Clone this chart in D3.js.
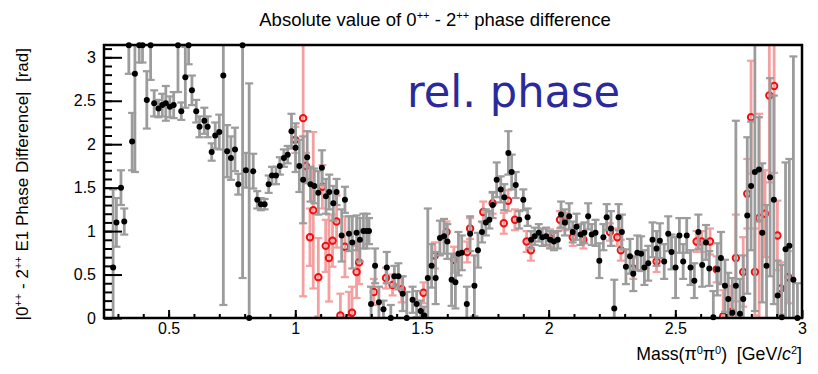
<!DOCTYPE html>
<html>
<head>
<meta charset="utf-8">
<title>Absolute value of 0++ - 2++ phase difference</title>
<script src="https://d3js.org/d3.v7.min.js"></script>
<style>
  body { margin: 0; background: #fff; }
  text { font-family: "Liberation Sans", Arial, sans-serif; }
</style>
</head>
<body>
<svg id="canvas"></svg>
<script>

// black points (grey error bars)
var blackMass = [0.281,0.294,0.312,0.325,0.343,0.356,0.367,0.384,0.397,0.414,0.429,0.443,0.460,0.475,0.489,0.505,0.520,0.537,0.550,0.566,0.579,0.592,0.609,0.622,0.641,0.654,0.670,0.684,0.700,0.716,0.731,0.746,0.762,0.775,0.792,0.805,0.818,0.834,0.850,0.864,0.879,0.895,0.908,0.924,0.939,0.955,0.970,0.985,1.001,1.016,1.031,1.047,1.060,1.075,1.091,1.105,1.121,1.134,1.150,1.163,1.183,1.196,1.212,1.225,1.242,1.255,1.269,1.282,1.291,1.299,1.315,1.330,1.348,1.361,1.377,1.391,1.407,1.424,1.440,1.463,1.479,1.495,1.509,1.523,1.538,1.554,1.571,1.587,1.600,1.617,1.632,1.644,1.657,1.677,1.690,1.707,1.721,1.737,1.752,1.766,1.779,1.795,1.811,1.825,1.841,1.854,1.870,1.884,1.900,1.917,1.931,1.945,1.961,1.975,1.990,2.006,2.021,2.036,2.049,2.064,2.081,2.095,2.110,2.126,2.141,2.156,2.170,2.185,2.200,2.216,2.229,2.246,2.259,2.276,2.289,2.305,2.321,2.334,2.350,2.365,2.378,2.393,2.410,2.426,2.439,2.456,2.472,2.485,2.501,2.516,2.531,2.545,2.560,2.575,2.591,2.606,2.621,2.634,2.650,2.666,2.680,2.696,2.709,2.725,2.739,2.755,2.768,2.784,2.799,2.814,2.830,2.843,2.860,2.874,2.889,2.904,2.920,2.935,2.950,2.966,2.982];
var blackPhase = [0.58,1.10,1.50,1.11,3.14,2.03,2.81,3.14,3.14,2.51,3.14,2.47,2.41,2.45,2.47,2.43,2.45,3.14,2.38,2.77,3.14,2.62,2.38,2.20,2.27,2.20,1.91,2.10,2.14,2.79,1.92,1.84,1.94,1.54,3.14,1.70,0.00,1.69,1.36,1.31,1.31,1.54,1.64,1.64,1.75,1.84,1.88,2.15,1.96,1.75,1.59,1.85,1.54,1.52,1.44,1.73,1.40,1.45,1.32,1.45,0.95,1.36,0.97,0.87,0.98,0.90,1.00,1.00,1.00,0.16,0.60,0.18,0.10,0.58,0.00,0.48,0.48,0.28,0.00,0.21,0.16,0.08,0.03,0.46,0.60,0.46,0.92,0.94,0.88,0.44,0.41,0.74,0.75,0.16,0.97,0.37,0.78,0.99,1.10,1.13,1.30,1.59,1.48,1.39,1.90,1.68,1.53,1.13,1.36,1.16,0.90,0.94,0.98,0.93,0.94,0.90,0.88,0.90,1.19,1.10,1.17,0.99,1.05,0.96,0.98,1.17,0.96,0.98,0.66,0.93,1.16,1.03,0.11,1.16,0.99,0.59,0.71,0.51,0.75,0.74,0.58,0.63,0.90,0.80,0.89,0.65,0.97,0.76,0.58,0.95,0.65,0.95,0.58,0.43,0.99,0.61,0.87,0.57,0.01,0.56,0.69,0.37,0.22,0.06,0.37,0.05,0.22,1.18,1.52,1.68,1.71,0.98,0.60,1.62,1.36,0.26,0.01,0.79,0.83,0.44,0.00];
var blackErr = [0.90,0.28,0.20,0.15,0.33,0.33,1.13,0.20,0.20,0.33,0.40,0.15,0.10,0.13,0.20,0.12,0.15,0.54,0.10,0.35,0.22,0.17,0.13,0.12,0.15,0.12,0.10,0.15,0.20,2.64,0.30,0.25,0.25,0.12,2.68,0.20,2.70,0.20,0.10,0.07,0.06,0.10,0.10,0.10,0.10,0.10,0.10,0.20,0.28,0.30,0.50,0.30,0.20,0.20,0.25,0.20,0.20,0.20,0.20,0.15,0.30,0.15,0.20,0.30,0.20,0.25,0.20,0.20,0.15,0.20,0.20,0.18,0.10,0.18,0.15,0.12,0.15,0.20,0.30,0.15,0.15,0.12,0.10,0.80,0.25,0.30,0.20,0.20,0.20,0.30,0.30,0.25,0.20,0.20,0.20,0.35,0.20,0.12,0.15,0.10,0.15,0.20,0.15,0.15,0.25,0.20,0.15,0.10,0.12,0.10,0.10,0.10,0.10,0.10,0.10,0.10,0.10,0.10,0.15,0.15,0.15,0.12,0.15,0.12,0.12,0.15,0.12,0.15,0.20,0.15,0.15,0.20,0.33,0.15,0.20,0.20,0.20,0.20,0.20,0.20,0.20,0.20,0.20,0.20,0.20,0.20,0.20,0.20,0.35,0.20,0.20,0.20,0.20,0.20,0.20,0.25,0.20,0.20,0.30,0.30,0.30,0.30,0.30,0.40,1.90,0.40,0.50,0.90,0.74,1.60,0.60,0.80,0.70,1.14,1.20,0.40,0.60,1.00,1.00,2.57,0.40];

// red open circles (pink error bars)
var redMass = [1.000,1.031,1.042,1.058,1.071,1.091,1.107,1.120,1.133,1.147,1.163,1.178,1.196,1.212,1.224,1.242,1.252,1.310,1.358,1.384,1.420,1.506,1.551,1.597,1.626,1.679,1.690,1.742,1.779,1.823,1.840,1.867,1.913,1.930,2.005,2.045,2.064,2.095,2.137,2.242,2.271,2.285,2.334,2.426,2.584,2.604,2.637,2.663,2.689,2.722,2.739,2.768,2.784,2.799,2.814,2.831,2.854,2.871,2.890,2.903,2.917,2.946];
var redPhase = [2.05,2.30,1.75,0.93,1.24,0.47,1.51,0.83,0.69,0.89,1.11,0.03,0.82,0.00,0.06,0.53,0.64,0.30,0.46,0.38,0.33,0.29,0.72,0.99,0.67,0.76,1.03,1.22,1.32,1.09,1.35,1.13,0.88,0.78,0.92,1.13,1.11,0.93,0.90,0.99,0.93,0.78,0.57,0.65,0.88,0.88,0.88,0.56,0.02,0.07,0.69,0.53,1.43,2.31,0.53,1.15,1.20,2.56,2.67,0.95,0.34,0.47];
var redErr = [0.15,2.05,0.15,0.33,0.90,0.45,0.25,0.30,0.50,0.30,0.30,0.25,0.35,0.30,0.30,0.30,0.25,0.15,0.12,0.12,0.15,0.12,0.15,0.12,0.15,0.12,0.12,0.12,0.12,0.12,0.12,0.12,0.12,0.12,0.10,0.10,0.10,0.10,0.10,0.10,0.10,0.12,0.12,0.12,0.12,0.12,0.15,0.15,0.30,0.30,0.50,0.40,0.40,0.65,0.50,1.20,0.50,1.00,1.00,0.40,0.30,0.30];

var xMajor = [0.5, 1, 1.5, 2, 2.5, 3];
var yMajor = [0, 0.5, 1, 1.5, 2, 2.5, 3];

var width = 818, height = 374;
var padL = 104, padR = 802, padT = 45, padB = 318;

var svg = d3.select("#canvas")
    .attr("width", width)
    .attr("height", height);

var x = d3.scaleLinear().domain([0.245, 3]).range([padL, padR]);
var y = d3.scaleLinear().domain([0, Math.PI]).range([padB, padT]);

function zip(m, p, e) {
  return m.map(function(d, i) { return {m: d, p: p[i], e: e[i]}; });
}
var black = zip(blackMass, blackPhase, blackErr);
var red = zip(redMass, redPhase, redErr);

svg.append("clipPath").attr("id", "plotclip")
  .append("rect")
    .attr("x", padL).attr("y", padT)
    .attr("width", padR - padL).attr("height", padB - padT);

var plot = svg.append("g").attr("clip-path", "url(#plotclip)");

function errorBars(data, color, cls) {
  var g = plot.append("g").attr("class", cls);
  var bar = g.selectAll("g").data(data).enter().append("g");
  bar.append("line")
    .attr("x1", function(d) { return x(d.m); })
    .attr("x2", function(d) { return x(d.m); })
    .attr("y1", function(d) { return y(Math.max(0, d.p - d.e)); })
    .attr("y2", function(d) { return y(Math.min(Math.PI, d.p + d.e)); })
    .attr("stroke", color).attr("stroke-width", 2.8);
  // caps (only where the bar end stays inside the frame)
  bar.filter(function(d) { return d.p + d.e < Math.PI; }).append("line")
    .attr("x1", function(d) { return x(d.m) - 4; })
    .attr("x2", function(d) { return x(d.m) + 4; })
    .attr("y1", function(d) { return y(d.p + d.e); })
    .attr("y2", function(d) { return y(d.p + d.e); })
    .attr("stroke", color).attr("stroke-width", 2.2);
  bar.filter(function(d) { return d.p - d.e > 0; }).append("line")
    .attr("x1", function(d) { return x(d.m) - 4; })
    .attr("x2", function(d) { return x(d.m) + 4; })
    .attr("y1", function(d) { return y(d.p - d.e); })
    .attr("y2", function(d) { return y(d.p - d.e); })
    .attr("stroke", color).attr("stroke-width", 2.2);
}

// red series first, black one on top
errorBars(red, "#f5a0a0", "redbars");
plot.append("g").selectAll("circle").data(red).enter().append("circle")
    .attr("cx", function(d) { return x(d.m); })
    .attr("cy", function(d) { return y(d.p); })
    .attr("r", 3.2)
    .attr("fill", "none")
    .attr("stroke", "#ee1111")
    .attr("stroke-width", 2);

errorBars(black, "#9c9c9c", "greybars");
svg.append("g").selectAll("circle").data(black).enter().append("circle")
    .attr("cx", function(d) { return x(d.m); })
    .attr("cy", function(d) { return y(d.p); })
    .attr("r", 3)
    .attr("fill", "#000");

// axes: major ticks with labels, minor ticks without
var yAxis = d3.axisLeft(y).tickValues(yMajor).tickSize(-18).tickPadding(8)
    .tickFormat(d3.format("~g"));
var yMinor = d3.axisLeft(y).tickValues(d3.range(0, 3.15, 0.1)).tickSize(-8).tickFormat("");
var xAxis = d3.axisBottom(x).tickValues(xMajor).tickSize(-8).tickPadding(5)
    .tickFormat(d3.format("~g"));
var xMinor = d3.axisBottom(x).tickValues(d3.range(0.3, 3.0, 0.1)).tickSize(-4).tickFormat("");

function styleAxis(g) {
  g.select(".domain").remove();
  g.selectAll("line").attr("stroke", "#000").attr("stroke-width", 2);
  g.selectAll("text").style("font-size", "16px").attr("fill", "#000");
}
svg.append("g").attr("transform", "translate(" + padL + ",0)").call(yMinor).call(styleAxis);
svg.append("g").attr("transform", "translate(" + padL + ",0)").call(yAxis).call(styleAxis);
svg.append("g").attr("transform", "translate(0," + padB + ")").call(xMinor).call(styleAxis);
svg.append("g").attr("transform", "translate(0," + padB + ")").call(xAxis).call(styleAxis);

// frame
svg.append("rect")
    .attr("x", padL).attr("y", padT)
    .attr("width", padR - padL).attr("height", padB - padT)
    .attr("fill", "none").attr("stroke", "#000").attr("stroke-width", 2.5);

// title
var title = svg.append("text")
    .attr("x", 435).attr("y", 26)
    .attr("text-anchor", "middle")
    .style("font-size", "18.5px");
title.append("tspan").text("Absolute value of 0");
title.append("tspan").attr("dy", -7).style("font-size", "11px").text("++");
title.append("tspan").attr("dy", 7).text(" - 2");
title.append("tspan").attr("dy", -7).style("font-size", "11px").text("++");
title.append("tspan").attr("dy", 7).text(" phase difference");

// x axis title
var xt = svg.append("text")
    .attr("x", padR).attr("y", 360)
    .attr("text-anchor", "end")
    .style("font-size", "17.7px");
xt.append("tspan").text("Mass(\u03c0");
xt.append("tspan").attr("dy", -6).style("font-size", "11px").text("0");
xt.append("tspan").attr("dy", 6).text("\u03c0");
xt.append("tspan").attr("dy", -6).style("font-size", "11px").text("0");
xt.append("tspan").attr("dy", 6).text(")\u00a0\u00a0[GeV/");
xt.append("tspan").style("font-style", "italic").text("c");
xt.append("tspan").attr("dy", -6).style("font-size", "11px").text("2");
xt.append("tspan").attr("dy", 6).text("]");

// y axis title
var yt = svg.append("text")
    .attr("transform", "translate(28," + (padT + 3) + ") rotate(-90)")
    .attr("text-anchor", "end")
    .style("font-size", "17px");
yt.append("tspan").text("|0");
yt.append("tspan").attr("dy", -6).style("font-size", "11px").text("++");
yt.append("tspan").attr("dy", 6).text(" - 2");
yt.append("tspan").attr("dy", -6).style("font-size", "11px").text("++");
yt.append("tspan").attr("dy", 6).text(" E1 Phase Difference|\u00a0\u00a0[rad]");

// annotation
svg.append("text")
    .attr("x", 407).attr("y", 107)
    .attr("textLength", 213)
    .attr("lengthAdjust", "spacingAndGlyphs")
    .attr("fill", "#2a2a9a")
    .style("font-family", "'Comic Sans MS', 'DejaVu Sans', sans-serif")
    .style("font-size", "44px")
    .text("rel. phase");

</script>
</body>
</html>
